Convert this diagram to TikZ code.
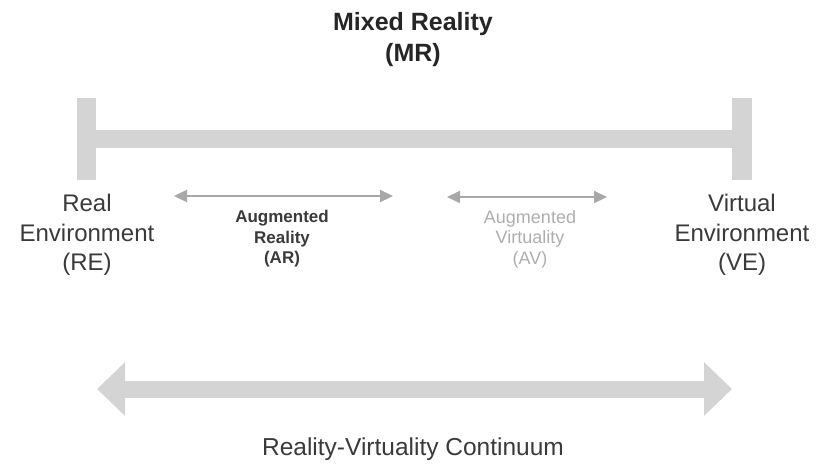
\documentclass[tikz,border=0pt]{standalone}
\usepackage{fontspec}
\setmainfont{Liberation Sans}
\usetikzlibrary{arrows.meta, positioning}
\definecolor{bargray}{HTML}{D4D4D4}
\definecolor{tipgray}{HTML}{A8A8A8}
\definecolor{labgray}{HTML}{3A3A3A}
\definecolor{avgray}{HTML}{AEAEAE}

\begin{document}
\begin{tikzpicture}[x=1pt,y=-1pt,
  every node/.style={inner sep=0pt},
  endlabel/.style={align=center,text=labgray,font=\fontsize{24}{29.5}\selectfont},
  sublabel/.style={align=center},
  span/.style={draw=tipgray,line width=2.2pt,
    {Triangle[length=13pt,width=12pt]}-{Triangle[length=13pt,width=12pt]}}]
\useasboundingbox (0,0) rectangle (818,464);
% mixed reality bar
\fill [bargray] (77,98) rectangle (96,180);
\fill [bargray] (732,98) rectangle (752,180);
\fill [bargray] (96,130) rectangle (732,148);
\node (mr) [align=center,text=black!85,font=\bfseries\fontsize{25}{31}\selectfont] at (413,40) {Mixed Reality\\(MR)};
% ends
\node (re) [endlabel] at (87,235) {Real\\Environment\\(RE)};
\node (ve) [endlabel] at (742,235) {Virtual\\Environment\\(VE)};
% AR and AV
\coordinate (arl) at (174,196);
\coordinate (arr) at (393,196);
\coordinate (avl) at (447,197);
\coordinate (avr) at (607,197);
\draw [span] (arl) -- (arr);
\draw [span] (avl) -- (avr);
\node (ar) [sublabel,text=labgray,font={\bfseries\fontsize{17}{20.5}\selectfont}] at (282,239) {Augmented\\Reality\\(AR)};
\node (av) [sublabel,text=avgray,font={\fontsize{18}{20.5}\selectfont}] at (530,239) {Augmented\\Virtuality\\(AV)};
% continuum
\coordinate (rvl) at (97,389);
\coordinate (rvr) at (732,389);
\draw [bargray,line width=17pt,{Triangle[length=28pt,width=52pt]}-{Triangle[length=28pt,width=52pt]}] (rvl) -- (rvr);
\node (rv) [text=labgray,font=\fontsize{24.5}{29}\selectfont] at (413,449) {Reality-Virtuality Continuum};
\end{tikzpicture}
\end{document}
